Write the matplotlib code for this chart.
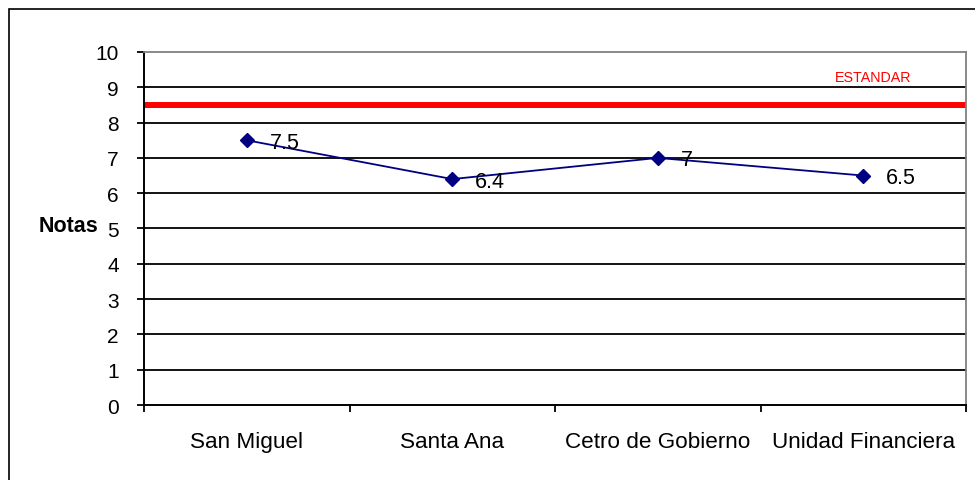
import matplotlib
matplotlib.use("Agg")
import matplotlib.pyplot as plt
from matplotlib.patches import Rectangle
from matplotlib.ticker import FixedLocator, NullFormatter

plt.rcParams['font.family'] = ['Liberation Sans', 'DejaVu Sans']

categories = ["San Miguel", "Santa Ana", "Cetro de Gobierno", "Unidad Financiera"]
notas = [7.5, 6.4, 7.0, 6.5]
nota_labels = ["7.5", "6.4", "7", "6.5"]
estandar = 8.5
y_ticks = list(range(0, 11))

W, H = 975, 481
fig = plt.figure(figsize=(W / 100, H / 100), dpi=100)

# outer chart frame (right/bottom edges fall outside the canvas)
fig.patches.append(Rectangle((9 / W, -0.05), 1.2, 1 - 10 / H + 0.05,
                             transform=fig.transFigure, fill=False,
                             edgecolor='black', linewidth=1.2, zorder=0))

ax = fig.add_axes([144 / W, 1 - 406 / H, (966 - 144) / W, (406 - 53) / H])
ax.set_facecolor('white')

x = list(range(len(categories)))
ax.set_xlim(-0.5, len(categories) - 0.5)
ax.set_ylim(0, 10)

# horizontal gridlines
for yv in y_ticks[1:-1]:
    ax.axhline(yv, color='black', linewidth=1.3, zorder=1)

ax.axhline(estandar, color='#ff0000', linewidth=4.3, zorder=2)
ax.text(3.05, 9.28, "ESTANDAR", color='#ff0000', fontsize=10.3,
        ha='center', va='center', zorder=3)

ax.plot(x, notas, color='#000080', linewidth=1.3, marker='D',
        markersize=7, markerfacecolor='#000080', markeredgecolor='#000080',
        zorder=4)
for xi, yi, lab in zip(x, notas, nota_labels):
    ax.annotate(lab, (xi, yi), xytext=(23, -2), textcoords='offset pixels',
                ha='left', va='center', fontsize=15.5, color='black', zorder=5)

for side in ('top', 'right'):
    ax.spines[side].set_color('#808080')
    ax.spines[side].set_linewidth(1.3)
for side in ('left', 'bottom'):
    ax.spines[side].set_color('black')
    ax.spines[side].set_linewidth(1.4)

ax.set_yticks(y_ticks)
ax.set_yticklabels([str(v) for v in y_ticks])
ax.tick_params(axis='y', direction='out', length=5, width=1.3, pad=13,
               labelsize=15, colors='black')

# category boundaries carry tick marks, centres carry the labels
ax.xaxis.set_major_locator(FixedLocator([i - 0.5 for i in range(len(categories) + 1)]))
ax.xaxis.set_major_formatter(NullFormatter())
ax.xaxis.set_minor_locator(FixedLocator(x))
ax.set_xticklabels(categories, minor=True)
ax.tick_params(axis='x', which='major', direction='out', length=5, width=1.3)
ax.tick_params(axis='x', which='minor', length=0, pad=19, labelsize=16.2)

fig.text(68 / W, 1 - 226 / H, "Notas", fontsize=15.5, fontweight='bold',
         ha='center', va='center')

fig.savefig("out.png", dpi=100, facecolor='white')
